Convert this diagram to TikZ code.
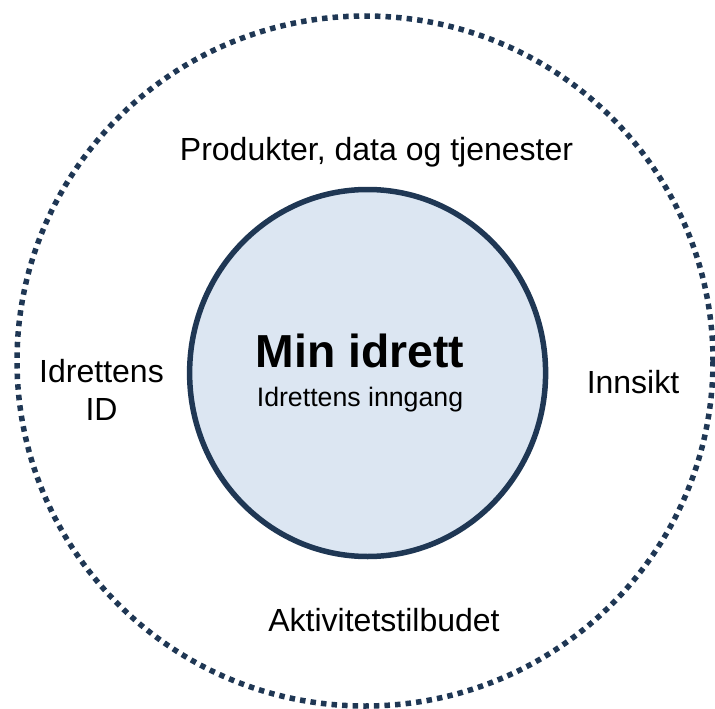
\documentclass[tikz,border=0pt]{standalone}
\usepackage{fontspec}
\setmainfont{Liberation Sans}
\definecolor{navy}{RGB}{31,55,84}
\definecolor{lightblue}{RGB}{220,230,242}
\begin{document}
\begin{tikzpicture}[x=1pt,y=-1pt,
  lbl/.style={inner sep=0pt, anchor=base, font=\fontsize{32}{38.5}\selectfont, align=center}]
\useasboundingbox (0,0) rectangle (715,709);
\draw[navy, line width=5.5pt, dash pattern=on 5.5pt off 5.1pt] (365,361) ellipse [x radius=348, y radius=345];
\path[fill=lightblue, draw=navy, line width=5.5pt] (367.6,373) ellipse [x radius=178, y radius=183.5];
\node[lbl, font=\bfseries\fontsize{46.3}{50}\selectfont] (title) at (360,367) {Min idrett};
\node[lbl, font=\fontsize{26.7}{30}\selectfont] (sub) at (360,406) {Idrettens inngang};
\node[lbl] (top) at (376.5,160.5) {Produkter, data og tjenester};
\node[lbl] (left) at (101.5,420.5) {Idrettens\\ID};
\node[lbl] (right) at (633,393) {Innsikt};
\node[lbl] (bottom) at (384,631.5) {Aktivitetstilbudet};
\end{tikzpicture}
\end{document}
